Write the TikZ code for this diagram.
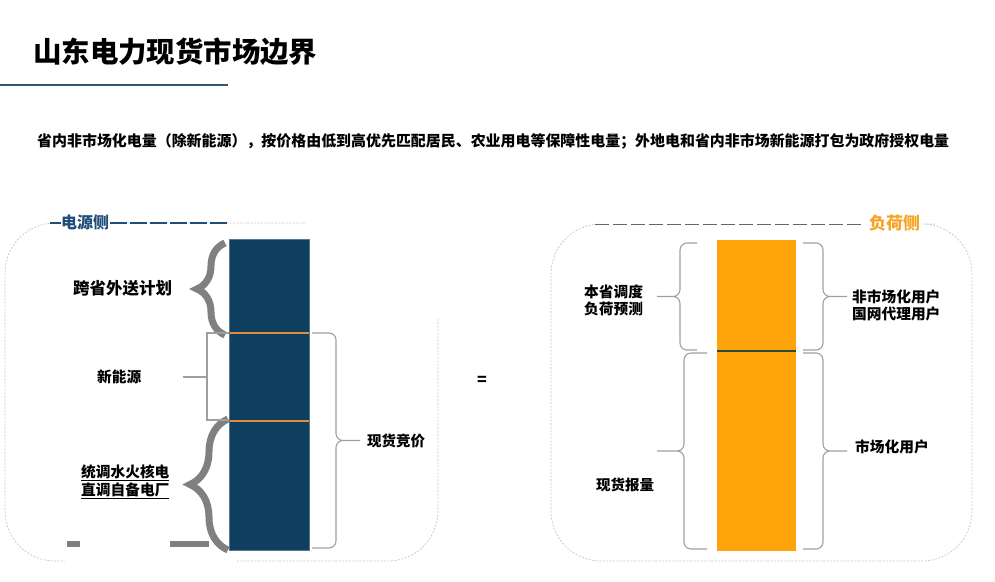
\documentclass[tikz,border=0pt]{standalone}
\usepackage{fontspec}
\setmainfont{Noto Sans CJK SC}
\usetikzlibrary{decorations.pathreplacing}
\definecolor{srcnavy}{HTML}{0E3F5E}
\definecolor{srcline}{HTML}{E58A3C}
\definecolor{srctext}{HTML}{1F4E79}
\definecolor{loadorange}{HTML}{FFA30B}
\definecolor{loadtext}{HTML}{F5A424}
\definecolor{loadline}{HTML}{2B4A3B}
\definecolor{titlerule}{HTML}{2F5674}
\tikzset{
  lbl/.style={font=\bfseries\fontsize{14.7}{17}\selectfont, inner sep=0pt, align=left, anchor=west},
  curly/.style={draw=gray!75, line width=1.1pt, rounded corners=7pt},
  fatbrace/.style={decorate, decoration={brace, amplitude=#1}, draw=gray, line width=7pt},
  boxline/.style={draw=gray!45, line width=0.7pt, dash pattern=on 2pt off 1.5pt, rounded corners=50pt},
  column/.style={inner sep=0pt, minimum width=#1, minimum height=311pt},
}
\begin{document}
\begin{tikzpicture}[x=1pt,y=-1pt]
\useasboundingbox (0,0) rectangle (995,581);
\node[lbl, font=\bfseries\fontsize{28.4}{32}\selectfont] (title) at (33,52) {山东电力现货市场边界};
\draw[titlerule, line width=2pt] (0,85) -- (228,85);
\node[lbl, font=\bfseries\fontsize{14.95}{18}\selectfont] (note) at (37,141) {省内非市场化电量（除新能源），按价格由低到高优先匹配居民、农业用电等保障性电量；外地电和省内非市场新能源打包为政府授权电量};

% power side
\draw[boxline] (305,223) -- (5,223) -- (5,561) -- (65,561);
\draw[boxline] (237,561) -- (438,561) -- (438,317);
\draw[srctext, line width=1.3pt, dash pattern=on 17pt off 3pt] (50,223) -- (228,223);
\node[lbl, font=\bfseries\fontsize{16}{19}\selectfont, text=srctext, fill=white] (srchead) at (61,222) {电源侧};
\node[column=80pt, fill=srcnavy, draw=srcnavy!70!white, line width=0.6pt] (src) at (269,394.5) {};
\draw[srcline, line width=2pt] (229.5,332.5) -- (308.5,332.5);
\draw[srcline, line width=2pt] (229.5,421) -- (308.5,421);
\draw[fatbrace=28pt] (225,335) -- (225,243);
\draw[fatbrace=38pt] (228,550) -- (228,419);
\draw[gray, line width=6pt] (170,544) -- (209,544);
\fill[gray] (67,541) rectangle (80,547);
\draw[gray!75, line width=1.1pt] (229,333) -- (207,333) -- (207,420) -- (229,420) (207,377) -- (183,377);
\draw[curly] (312,333) -- (336,333) -- (336,440.5) -- (360,440.5) (360,440.5) -- (336,440.5) -- (336,548) -- (312,548);
\node[lbl, font=\bfseries\fontsize{16.5}{19}\selectfont] (export) at (73,288) {跨省外送计划};
\node[lbl] (renew) at (97,377) {新能源};
\node[lbl] (thermal) at (81,473) {\underline{统调水火核电}};
\node[lbl] (captive) at (81,491) {\underline{直调自备电厂}};
\node[lbl, font=\bfseries\fontsize{14.5}{17}\selectfont] (bid) at (367,441) {现货竞价};

\node[lbl, font=\bfseries\fontsize{16}{19}\selectfont] (eq) at (477,381) {=};

% load side
\draw[boxline] (935,224) -- (972,224) -- (972,561) -- (551,561) -- (551,224) -- (600,224);
\draw[gray!80!black, line width=1pt, dash pattern=on 14pt off 4pt] (595,224) -- (865,224);
\node[lbl, font=\bfseries\fontsize{17}{20}\selectfont, text=loadtext, fill=white] (loadhead) at (869,223) {负荷侧};
\node[column=79pt, fill=loadorange] (load) at (756.5,395.5) {};
\draw[loadline, line width=1.5pt] (717,351) -- (796,351);
\draw[curly] (697,243) -- (680,243) -- (680,296.5) -- (657,296.5) (657,296.5) -- (680,296.5) -- (680,350) -- (697,350);
\draw[curly] (707,353) -- (684,353) -- (684,451) -- (657,451) (657,451) -- (684,451) -- (684,549) -- (707,549);
\draw[curly] (803,243) -- (823,243) -- (823,296.5) -- (847,296.5) (847,296.5) -- (823,296.5) -- (823,350) -- (803,350);
\draw[curly] (803,353) -- (823,353) -- (823,451) -- (847,451) (847,451) -- (823,451) -- (823,549) -- (803,549);
\node[lbl] (forecast) at (584,300.5) {本省调度\\负荷预测};
\node[lbl, font=\bfseries\fontsize{14.5}{17}\selectfont] (report) at (596,485) {现货报量};
\node[lbl] (nonmkt) at (852,305) {非市场化用户\\国网代理用户};
\node[lbl] (mkt) at (855,447) {市场化用户};
\end{tikzpicture}
\end{document}
